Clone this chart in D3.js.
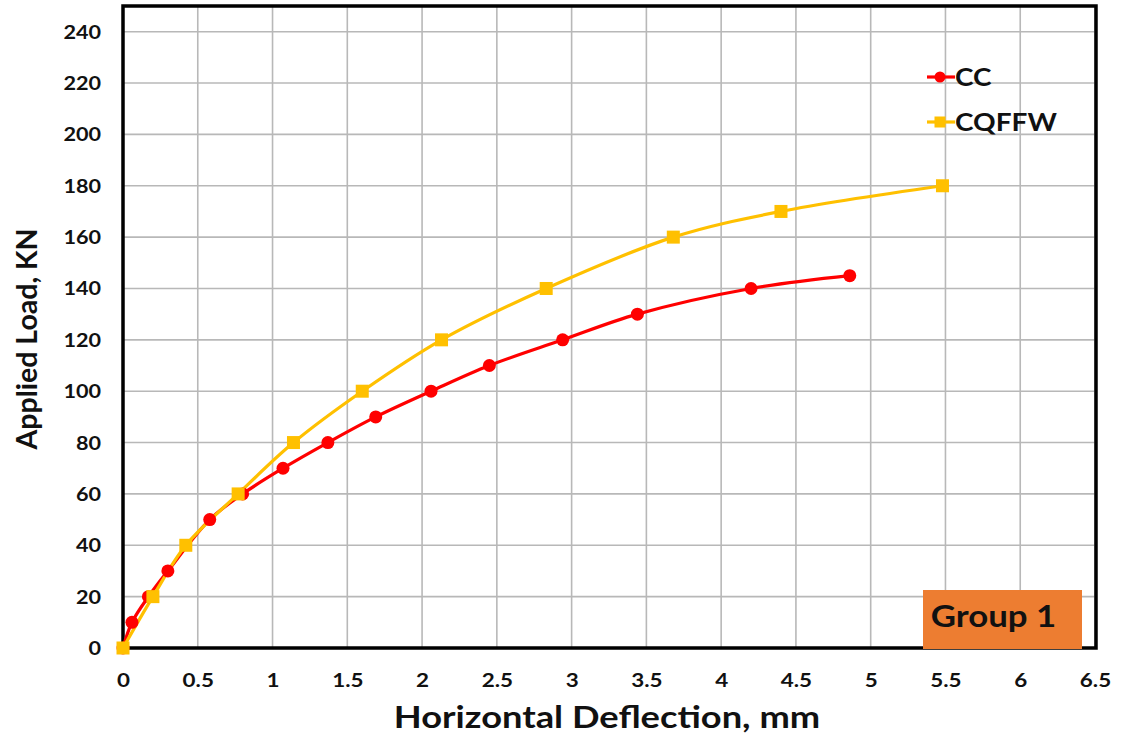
<!DOCTYPE html>
<html>
<head>
<meta charset="utf-8">
<script src="https://cdn.jsdelivr.net/npm/d3@7"></script>
<style>
  html, body { margin: 0; padding: 0; background: #fff; }
  svg { display: block; }
  text { font-family: Lato, "Open Sans", sans-serif; font-weight: bold; fill: #111; }
</style>
</head>
<body>
<svg id="chart" width="1123" height="740"></svg>
<script>
// Load–deflection readings, Group 1
const ccDeflection    = [0, 0.06, 0.17, 0.30, 0.58, 0.80, 1.07, 1.37, 1.69, 2.06, 2.45, 2.94, 3.44, 4.20, 4.86];
const ccLoad          = [0, 10, 20, 30, 50, 60, 70, 80, 90, 100, 110, 120, 130, 140, 145];
const cqffwDeflection = [0, 0.20, 0.42, 0.77, 1.14, 1.60, 2.13, 2.83, 3.68, 4.40, 5.48];
const cqffwLoad       = [0, 20, 40, 60, 80, 100, 120, 140, 160, 170, 180];

const xTicks = [0, 0.5, 1, 1.5, 2, 2.5, 3, 3.5, 4, 4.5, 5, 5.5, 6, 6.5];
const yTicks = [0, 20, 40, 60, 80, 100, 120, 140, 160, 180, 200, 220, 240];
const seriesNames = ["CC", "CQFFW"];
const xTitle = "Horizontal Deflection, mm";
const yTitle = "Applied Load, KN";
const groupLabel = "Group 1";

const series = [
  { name: seriesNames[0], xs: ccDeflection, ys: ccLoad, color: "#FF0000", marker: "circle" },
  { name: seriesNames[1], xs: cqffwDeflection, ys: cqffwLoad, color: "#FFC000", marker: "square" }
];

const svg = d3.select("#chart");
const plotL = 123, plotR = 1096, plotT = 6, plotB = 648;

const x = d3.scaleLinear().domain([0, 6.5]).range([plotL, plotR - 1]);
const y = d3.scaleLinear().domain([0, 250]).range([plotB, plotT]);

// Wide bold lettering: text is drawn at (ax, ay) and stretched horizontally by sx
function wideText(parent, ax, ay, sx, size, anchor, str) {
  return parent.append("text")
    .attr("transform", `translate(${ax},${ay}) scale(${sx},1)`)
    .attr("text-anchor", anchor)
    .style("font-size", size + "px")
    .text(str);
}

// Gridlines
const grid = svg.append("g");
grid.selectAll("line.v").data(xTicks.slice(1)).join("line")
  .attr("x1", d => x(d)).attr("x2", d => x(d))
  .attr("y1", plotT).attr("y2", plotB)
  .attr("stroke", "#b8b8b8").attr("stroke-width", 1.6);
grid.selectAll("line.h").data(yTicks.slice(1)).join("line")
  .attr("x1", plotL).attr("x2", plotR)
  .attr("y1", d => y(d)).attr("y2", d => y(d))
  .attr("stroke", "#b8b8b8").attr("stroke-width", 1.6);

// Axes (labels only; the frame is drawn separately)
const xAxis = d3.axisBottom(x).tickValues(xTicks).tickSize(0).tickPadding(0)
  .tickFormat(d => String(d));
const gx = svg.append("g").attr("transform", `translate(0,${plotB})`).call(xAxis);
gx.select(".domain").remove();
gx.selectAll("text")
  .attr("dy", 0).attr("y", 0).attr("x", 0)
  .attr("transform", "translate(0,39) scale(1.18,1)")
  .style("font-size", "19px").style("font-family", "Lato, sans-serif")
  .style("font-weight", "bold").attr("fill", "#111");

const yAxis = d3.axisLeft(y).tickValues(yTicks).tickSize(0).tickPadding(0)
  .tickFormat(d => String(d));
const gy = svg.append("g").attr("transform", `translate(${plotL},0)`).call(yAxis);
gy.select(".domain").remove();
gy.selectAll("text")
  .attr("x", 0).attr("dy", "0.36em")
  .attr("transform", "translate(-22,0) scale(1.2,1)")
  .style("font-size", "18px").style("font-family", "Lato, sans-serif")
  .style("font-weight", "bold").attr("fill", "#111");

// Plot frame
svg.append("rect")
  .attr("x", plotL).attr("y", plotT)
  .attr("width", plotR - plotL).attr("height", plotB - plotT)
  .attr("fill", "none").attr("stroke", "#000").attr("stroke-width", 3.5);

// Smoothed series lines
const line = d3.line().curve(d3.curveCatmullRom.alpha(0.5));
series.forEach(s => {
  const pts = s.xs.map((v, i) => [x(v), y(s.ys[i])]);
  svg.append("path").attr("d", line(pts))
    .attr("fill", "none").attr("stroke", s.color).attr("stroke-width", 3.2);
});

// Markers
function drawMarker(g, type, cx, cy, color, size) {
  if (type === "circle") {
    g.append("circle").attr("cx", cx).attr("cy", cy).attr("r", size / 2).attr("fill", color);
  } else {
    g.append("rect").attr("x", cx - size / 2).attr("y", cy - size / 2)
      .attr("width", size).attr("height", size).attr("fill", color);
  }
}
series.forEach(s => {
  const g = svg.append("g");
  s.xs.forEach((v, i) => drawMarker(g, s.marker, x(v), y(s.ys[i]), s.color, 13));
});

// Legend
const legend = svg.append("g");
series.forEach((s, i) => {
  const ly = 77 + i * 45;
  legend.append("line").attr("x1", 927).attr("x2", 955).attr("y1", ly).attr("y2", ly)
    .attr("stroke", s.color).attr("stroke-width", 3.2);
  drawMarker(legend, s.marker, 940, ly, s.color, 11);
  wideText(legend, 955, ly + 9, 1.12, 25, "start", s.name);
});

// Group badge
svg.append("rect").attr("x", 923).attr("y", 590).attr("width", 159).attr("height", 59)
  .attr("fill", "#ED7D31");
wideText(svg, 993.5, 627, 1.16, 30, "middle", groupLabel);

// Axis titles
wideText(svg, 607, 728, 1.21, 30, "middle", xTitle);
svg.append("text").attr("transform", "translate(37,339) rotate(-90)").attr("text-anchor", "middle")
  .style("font-size", "28.5px").text(yTitle);
</script>
</body>
</html>
